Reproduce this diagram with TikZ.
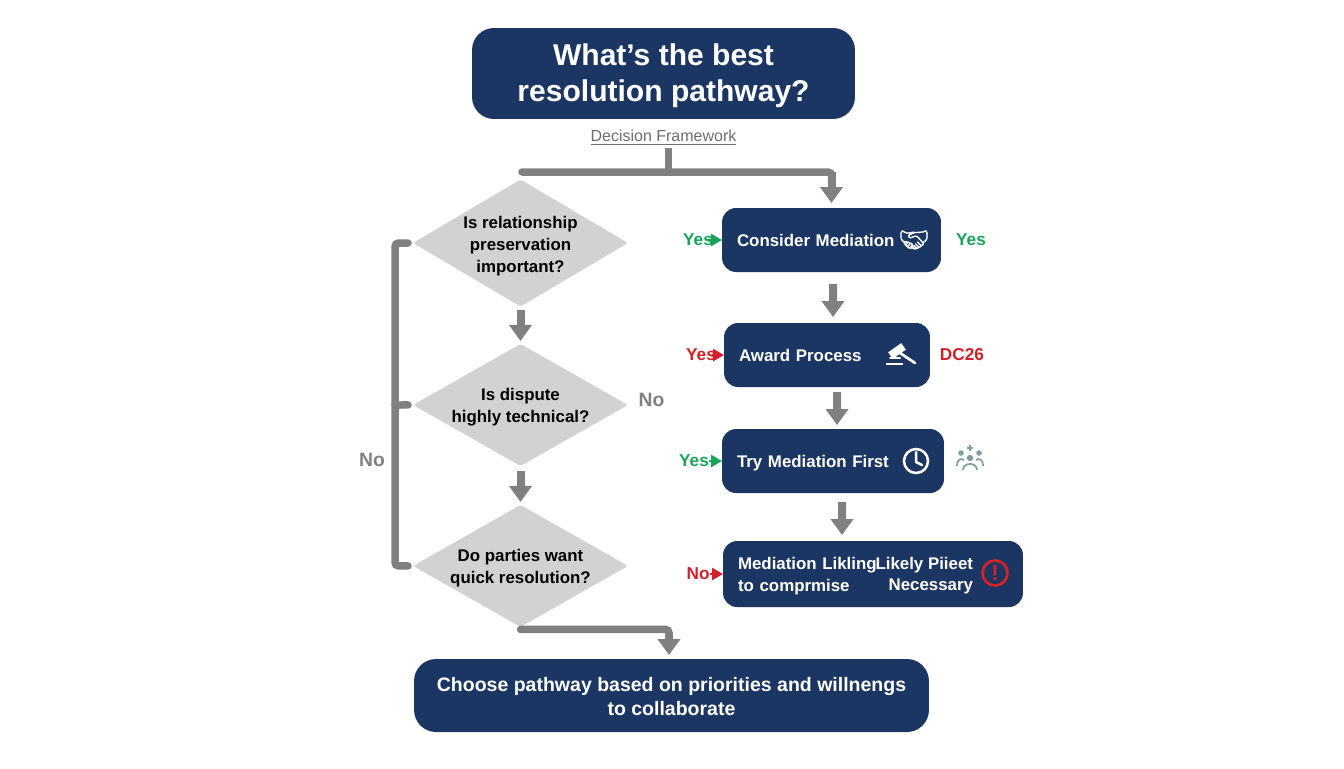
\documentclass[tikz,border=0pt]{standalone}
\usepackage{fontspec}
\setmainfont{Liberation Sans}
\newfontfamily\emojifont[FakeBold=1.5]{Noto Emoji}
\usetikzlibrary{arrows.meta,shapes.geometric,positioning}
\definecolor{navy}{HTML}{1B3663}
\definecolor{flowgray}{HTML}{808080}
\definecolor{yesgreen}{HTML}{18A558}
\definecolor{nored}{HTML}{D32029}
\definecolor{peopleteal}{HTML}{7F9E9E}
\tikzset{
every node/.style={outer sep=0pt}, % arrows touch the shapes
navybox/.style={fill=navy, rounded corners=.28cm, text=white, font=\bfseries\fontsize{9.6}{12.5}\selectfont, align=left, inner xsep=.3cm, inner ysep=0pt},
bigbox/.style={navybox, rounded corners=.44cm, align=center},
decision/.style={diamond, fill=gray!35!white, rounded corners=.05cm, minimum width=4.3cm, minimum height=2.44cm, inner sep=0pt},
dectext/.style={font=\bfseries\fontsize{9.6}{12.5}\selectfont, align=center, text=black, inner sep=0pt},
flowline/.style={draw=flowgray, line width=.15cm, line cap=round, rounded corners=.07cm},
flowarrow/.style={draw=flowgray, line width=.16cm, -{Triangle[width=.44cm,length=.32cm]}},
sidetag/.style={font=\bfseries\fontsize{9.8}{12}\selectfont, inner sep=0pt},
sidearrow/.style={line width=.05cm, -{Triangle[width=.24cm,length=.22cm]}},
}

\begin{document}
\begin{tikzpicture}[x=.02cm,y=-.02cm]
\useasboundingbox (0,0) rectangle (1344,768);

% title and framework line
\node[bigbox, minimum width=7.66cm, minimum height=1.82cm, font=\bfseries\fontsize{17.1}{20.4}\selectfont] (title) at (663.5,73.5) {\rule{0pt}{15pt}What’s the best\\resolution pathway?};
\node[text=flowgray!85!black, font=\fontsize{9.1}{11}\selectfont, inner sep=0pt] (sub) at (663.5,138) {\underline{Decision Framework}};

% left column
\node[decision, minimum height=2.54cm, label={[dectext,yshift=-.06cm]center:{Is relationship\\preservation\\important?}}] (dec1) at (520.5,243) {};
\node[decision, below of=dec1, node distance=3.24cm, label={[dectext,yshift=-.04cm]center:{Is dispute\\highly technical?}}] (dec2) {};
\node[decision, below of=dec2, node distance=3.22cm, label={[dectext,yshift=-.04cm]center:{Do parties want\\quick resolution?}}] (dec3) {};

% right column
\node[navybox, text width=3.78cm, minimum height=1.28cm] (med) at (831.5,240) {Consider Mediation};
\node[navybox, text width=3.52cm, minimum height=1.28cm] (award) at (827,355) {Award Process};
\node[navybox, text width=3.84cm, minimum height=1.28cm] (try) at (833,461) {\rule{0pt}{9.6pt}Try Mediation First};
\node[navybox, text width=5.4cm, minimum height=1.32cm] (likely) at (873,574) {\rule{0pt}{9.4pt}Mediation Likling\\to comprmise};
\node[font=\bfseries\fontsize{9.6}{12}\selectfont, text=white, align=right, inner sep=0pt, anchor=east] (necess) at (973,576) {Likely Piieet\\Necessary};
\node[bigbox, minimum width=10.3cm, minimum height=1.46cm, font=\bfseries\fontsize{11.1}{13.6}\selectfont] (end) at (671.5,695.5) {\rule{0pt}{9.4pt}Choose pathway based on priorities and willnengs\\to collaborate};

% tags beside the boxes
\node[sidetag, text=yesgreen, left of=med, node distance=2.67cm] (yes1) {Yes};
\node[sidetag, text=yesgreen, right of=med, node distance=2.79cm] (yes2) {Yes};
\node[sidetag, text=nored, left of=award, node distance=2.52cm] (yes3) {Yes};
\node[sidetag, text=nored, right of=award, node distance=2.7cm] (dc) {DC26};
\node[sidetag, text=yesgreen, left of=try, node distance=2.78cm] (yes4) {Yes};
\node[sidetag, text=nored, left of=likely, node distance=3.5cm] (no1) {No};
\node[font=\bfseries\fontsize{11}{13}\selectfont, text=flowgray, inner sep=0pt] (no2) at (372,460) {No};
\node[font=\bfseries\fontsize{11}{13}\selectfont, text=flowgray, inner sep=0pt] (no3) at (651.5,400) {No};

\coordinate (barl) at (522,172);
\coordinate (brk) at (395,405);

% connectors
\draw[flowline, line cap=butt] (sub.south) ++(.1cm,-.04cm) -- ++(0,24);
\draw[flowline] (barl) -- (barl -| med.north) -- ++(0,12);
\draw[flowarrow] (barl -| med.north) -- ([yshift=.1cm]med.north);
\draw[flowline, shorten <=.1cm, shorten >=.1cm] (dec1.west) -| (brk) |- (dec3.west);
\draw[flowline, shorten >=.1cm] (brk) -- (dec2.west);
\draw[flowarrow, shorten <=.08cm, shorten >=.06cm] (dec1.south) -- (dec2.north);
\draw[flowarrow, shorten <=.1cm, shorten >=.06cm] (dec2.south) -- (dec3.north);
\draw[flowarrow, shorten <=.24cm, shorten >=.12cm] ([xshift=.03cm]med.south) -- ([xshift=.12cm]award.north);
\draw[flowarrow, shorten <=.1cm, shorten >=.08cm] ([xshift=.2cm]award.south) -- ([xshift=.08cm]try.north);
\draw[flowarrow, shorten <=.18cm, shorten >=.12cm] ([xshift=.18cm]try.south) -- ([xshift=-.62cm]likely.north);
\draw[flowline] ([yshift=-.05cm]dec3.south) -| ([xshift=-.05cm,yshift=.4cm]end.north);
\draw[flowarrow] ([xshift=-.05cm,yshift=.5cm]end.north) -- ([xshift=-.05cm,yshift=.08cm]end.north);

\draw[sidearrow, yesgreen] ([xshift=-.12cm]yes1.east) -- (med.west);
\draw[sidearrow, nored] ([xshift=-.08cm]yes3.east) -- (award.west);
\draw[sidearrow, yesgreen] (yes4.east) -- (try.west);
\draw[sidearrow, nored] (no1.east) -- (likely.west);

% icons
\node[text=white, font=\emojifont\fontsize{14}{14}\selectfont, inner sep=0pt] (shake) at (914,240) {^^^^^^01f91d};
\begin{scope}[draw=white, fill=white]
\fill[rotate around={35:(897,351)}] (889,347) rectangle (905,355);
\draw[line width=.055cm, line cap=round] (900,353) -- (915,363);
\draw[line width=.04cm, line cap=round] (890,358) -- (900,358);
\draw[line width=.05cm] (886,364) -- (903,364);
\draw[line width=.05cm] (916,461) circle (12);
\draw[line width=.05cm, line cap=round, line join=round] (916,452) -- (916,462) -- (922,465);
\end{scope}
\draw[nored, line width=.055cm] (995,573) circle (12.5);
\node[text=nored, font=\bfseries\fontsize{12.5}{12.5}\selectfont, inner sep=0pt] (alert) at (995,573) {!};
\begin{scope}[peopleteal, line width=.035cm]
\draw (970,445) -- (970,451) (967,448) -- (973,448);
\fill (961,453) circle (2.8) (979,453) circle (2.8) (970,458) circle (3.2);
\draw (957,466) .. controls (957,459) and (961,458) .. (964,460);
\draw (983,466) .. controls (983,459) and (979,458) .. (976,460);
\draw (963,470) .. controls (963,462) and (977,462) .. (977,470);
\end{scope}
\end{tikzpicture}
\end{document}
